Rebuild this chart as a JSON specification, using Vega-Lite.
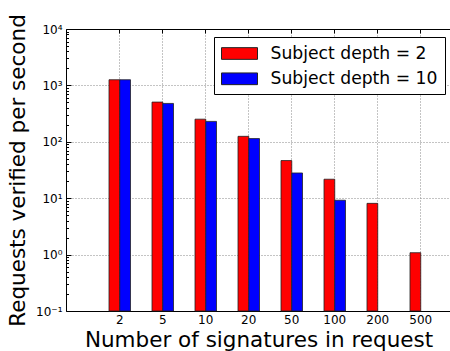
{
  "$schema": "https://vega.github.io/schema/vega-lite/v6.json",
  "width": 385,
  "height": 282,
  "autosize": {"type": "none"},
  "padding": {"left": 66, "top": 29, "right": 0, "bottom": 40},
  "config": {
    "view": {"stroke": null},
    "font": "DejaVu Sans",
    "axis": {"labelFont": "DejaVu Sans", "titleFont": "DejaVu Sans", "labelColor": "#000", "titleColor": "#000", "domainColor": "#000", "tickColor": "#000"},
    "legend": {"labelFont": "DejaVu Sans"}
  },
  "data": {
    "values": [
      {"n": "2", "depth": "Subject depth = 2", "rate": 1260},
      {"n": "2", "depth": "Subject depth = 10", "rate": 1260},
      {"n": "5", "depth": "Subject depth = 2", "rate": 506},
      {"n": "5", "depth": "Subject depth = 10", "rate": 479},
      {"n": "10", "depth": "Subject depth = 2", "rate": 252},
      {"n": "10", "depth": "Subject depth = 10", "rate": 230},
      {"n": "20", "depth": "Subject depth = 2", "rate": 125},
      {"n": "20", "depth": "Subject depth = 10", "rate": 114},
      {"n": "50", "depth": "Subject depth = 2", "rate": 46.5},
      {"n": "50", "depth": "Subject depth = 10", "rate": 28},
      {"n": "100", "depth": "Subject depth = 2", "rate": 21.7},
      {"n": "100", "depth": "Subject depth = 10", "rate": 9.2},
      {"n": "200", "depth": "Subject depth = 2", "rate": 8.1},
      {"n": "500", "depth": "Subject depth = 2", "rate": 1.08}
    ]
  },
  "layer": [
    {
      "mark": {"type": "bar", "stroke": "#222", "strokeWidth": 0.8},
      "encoding": {
        "x": {
          "field": "n", "type": "ordinal",
          "sort": ["2", "5", "10", "20", "50", "100", "200", "500"],
          "scale": {"paddingInner": 0.5, "paddingOuter": 0.727, "align": 0.688},
          "axis": {
            "orient": "bottom", "title": "Number of signatures in request",
            "titleFontSize": 21.5, "titleFontWeight": "normal", "titlePadding": 4,
            "labelFontSize": 12, "labelAngle": 0, "labelPadding": 3,
            "ticks": false, "domain": true, "grid": true,
            "gridColor": "#888", "gridDash": [1, 2], "gridWidth": 1
          }
        },
        "xOffset": {"field": "depth", "sort": ["Subject depth = 2", "Subject depth = 10"], "scale": {"paddingInner": 0, "paddingOuter": 0}},
        "y": {
          "field": "rate", "type": "quantitative",
          "scale": {"type": "log", "domain": [0.1, 10000], "nice": false},
          "axis": {
            "orient": "left", "title": "Requests verified per second",
            "titleFontSize": 21.5, "titleFontWeight": "normal", "titlePadding": 6,
            "labelFontSize": 12, "labelPadding": 4,
            "values": [0.1, 1, 10, 100, 1000, 10000],
            "labelExpr": "datum.value == 10000 ? '10⁴' : datum.value == 1000 ? '10³' : datum.value == 100 ? '10²' : datum.value == 10 ? '10¹' : datum.value == 1 ? '10⁰' : '10⁻¹'",
            "ticks": false, "domain": true, "grid": true,
            "gridColor": "#888", "gridDash": [1, 2], "gridWidth": 1
          }
        },
        "y2": {"datum": 0.1},
        "color": {
          "field": "depth", "type": "nominal",
          "scale": {"domain": ["Subject depth = 2", "Subject depth = 10"], "range": ["#ff0000", "#0000ff"]},
          "legend": {
            "title": null, "orient": "none", "legendX": 148, "legendY": 8,
            "strokeColor": "#000", "fillColor": "#fff", "padding": 7,
            "labelFontSize": 17.2, "labelColor": "#000", "labelLimit": 300,
            "symbolType": "M-2,-0.65H2V0.65H-2Z", "symbolSize": 324,
            "symbolStrokeColor": "#222", "symbolStrokeWidth": 1, "symbolOpacity": 1,
            "symbolOffset": 9, "labelOffset": 21.5, "rowPadding": 7.3
          }
        }
      }
    },
    {
      "mark": {"type": "bar", "opacity": 0},
      "encoding": {
        "x": {
          "field": "n", "type": "ordinal",
          "sort": ["2", "5", "10", "20", "50", "100", "200", "500"],
          "scale": {"paddingInner": 0.5, "paddingOuter": 0.727, "align": 0.688},
          "axis": {"orient": "top", "title": null, "labels": false, "ticks": true, "tickSize": -4, "domain": true, "grid": false}
        },
        "xOffset": {"field": "depth", "sort": ["Subject depth = 2", "Subject depth = 10"], "scale": {"paddingInner": 0, "paddingOuter": 0}},
        "y": {
          "field": "rate", "type": "quantitative",
          "scale": {"type": "log", "domain": [0.1, 10000], "nice": false},
          "axis": {
            "orient": "left", "title": null, "labels": false, "domain": false, "grid": false,
            "values": [0.1, 0.2, 0.3, 0.4, 0.5, 0.6, 0.7, 0.8, 0.9, 1, 2, 3, 4, 5, 6, 7, 8, 9, 10, 20, 30, 40, 50, 60, 70, 80, 90, 100, 200, 300, 400, 500, 600, 700, 800, 900, 1000, 2000, 3000, 4000, 5000, 6000, 7000, 8000, 9000, 10000],
            "ticks": true,
            "tickSize": {"condition": {"test": "indexof([0.1, 1, 10, 100, 1000, 10000], datum.value) >= 0", "value": -5}, "value": -2.5}
          }
        },
        "y2": {"datum": 0.1}
      }
    }
  ],
  "resolve": {"axis": {"x": "independent", "y": "independent"}}
}
